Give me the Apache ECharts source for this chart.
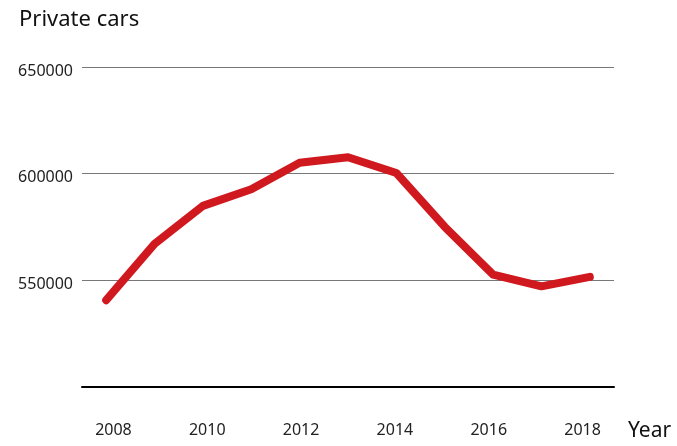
<!DOCTYPE html>
<html>
<head>
<meta charset="utf-8">
<script src="https://cdn.jsdelivr.net/npm/echarts@6/dist/echarts.min.js"></script>
<style>
  html, body { margin: 0; padding: 0; background: #fff; }
  #chart { width: 677px; height: 446px; }
</style>
</head>
<body>
<div id="chart"></div>
<script>
// Registered private cars per year
const years = ['2008', '2009', '2010', '2011', '2012', '2013', '2014', '2015', '2016', '2017', '2018'];
const privateCars = [540700, 567100, 584900, 592700, 605100, 607700, 600300, 575100, 552700, 547200, 551600];
const yTicks = [500000, 550000, 600000, 650000];
const yearLabels = [2008, 2010, 2012, 2014, 2016, 2018];

const font = '"Noto Sans", "Open Sans", sans-serif';
const chart = echarts.init(document.getElementById('chart'));

chart.setOption({
  animation: false,
  backgroundColor: '#ffffff',
  title: [
    { text: 'Private cars', left: 19, top: 9, padding: 0,
      textStyle: { fontFamily: font, fontSize: 22, fontWeight: 'normal', color: '#111' } },
    { text: 'Year', left: 628, top: 421, padding: 0,
      textStyle: { fontFamily: font, fontSize: 21, fontWeight: 'normal', color: '#111' } }
  ],
  grid: { left: 82, right: 63, top: 67, bottom: 59, containLabel: false },
  xAxis: [
    {
      // category axis carrying the line
      type: 'category',
      data: years,
      boundaryGap: true,
      axisLine: { show: true, lineStyle: { color: '#000', width: 2 } },
      axisTick: { show: false },
      axisLabel: { show: false }
    },
    {
      // year labels along the bottom
      type: 'value',
      position: 'bottom',
      min: 2007.33,
      max: 2018.67,
      axisLine: { show: false },
      axisTick: { show: false },
      splitLine: { show: false },
      axisLabel: {
        customValues: yearLabels,
        margin: 35, fontFamily: font, fontSize: 16, color: '#222',
        formatter: v => String(v)
      }
    }
  ],
  yAxis: {
    type: 'value',
    min: yTicks[0],
    max: yTicks[yTicks.length - 1],
    interval: 50000,
    axisLine: { show: false },
    axisTick: { show: false },
    splitLine: { lineStyle: { color: '#777', width: 1.2 } },
    axisLabel: {
      margin: 9,
      formatter: v => (v === yTicks[0] ? '' : '{v|' + v + '}'),
      rich: {
        v: { fontFamily: font, fontSize: 16, color: '#222', padding: [8, 0, 0, 0] }
      }
    }
  },
  series: [{
    type: 'line',
    xAxisIndex: 0,
    data: privateCars,
    symbol: 'none',
    lineStyle: { color: '#d0191f', width: 8, cap: 'round', join: 'round' }
  }]
});
</script>
</body>
</html>
